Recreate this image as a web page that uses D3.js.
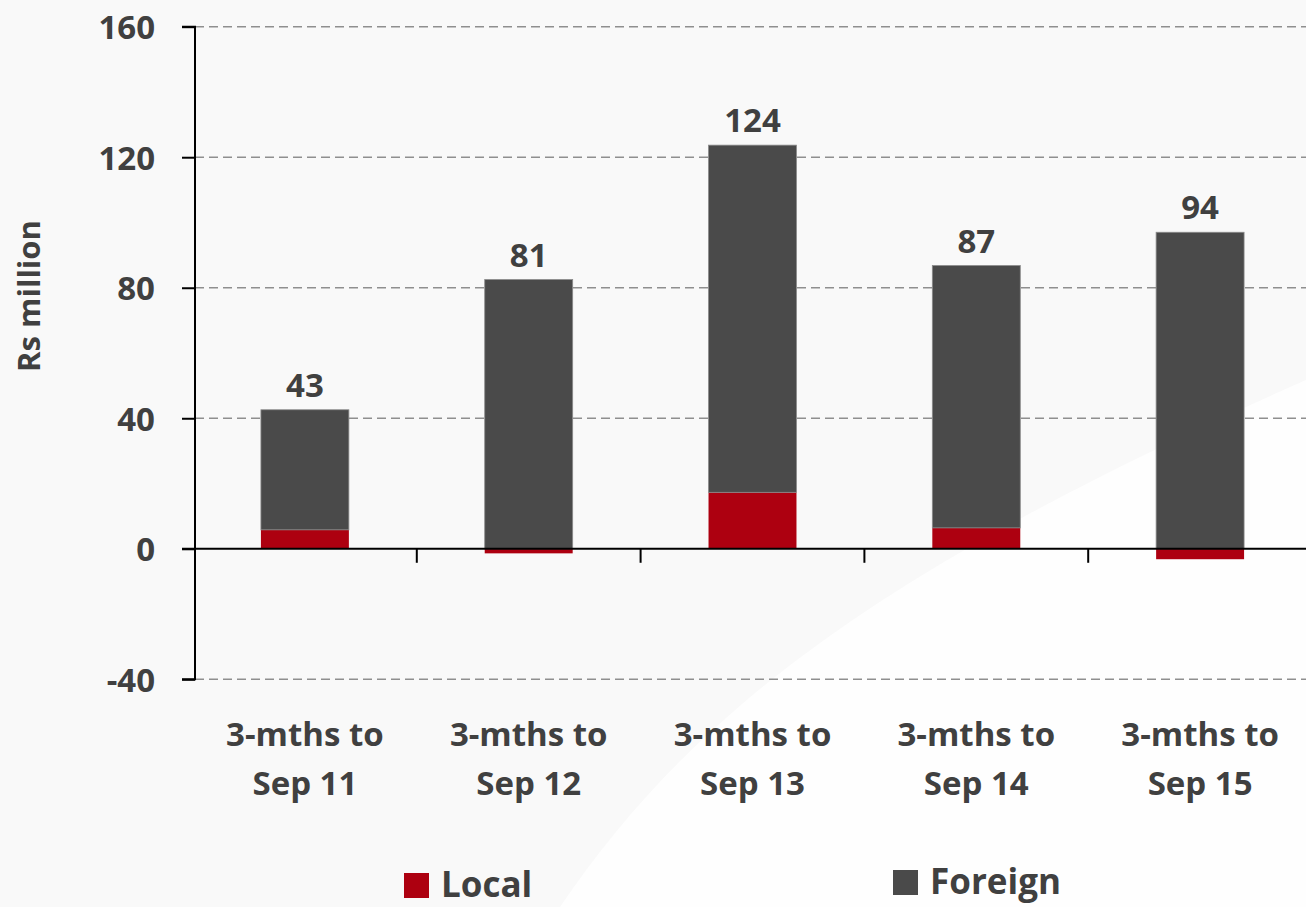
<!DOCTYPE html>
<html>
<head>
<meta charset="utf-8">
<script src="https://cdn.jsdelivr.net/npm/d3@7"></script>
<style>
  html, body { margin: 0; padding: 0; background: #fafafa; }
  svg { display: block; }
  text { font-family: "Open Sans", "Liberation Sans", sans-serif; font-weight: 700; fill: #404040; }
</style>
</head>
<body>
<svg id="chart" width="1306" height="907"></svg>
<script>
// ---- data ----
const categoryLine1 = ["3-mths to", "3-mths to", "3-mths to", "3-mths to", "3-mths to"];
const categoryLine2 = ["Sep 11", "Sep 12", "Sep 13", "Sep 14", "Sep 15"];
const localValues   = [5.8, -1.4, 17.3, 6.4, -3.2];
const foreignValues = [36.8, 82.5, 106.4, 80.4, 97.0];
const yTicks = [-40, 0, 40, 80, 120, 160];
const seriesNames = ["Local", "Foreign"];
const seriesColors = ["#ad0010", "#4a4a4a"];

// ---- layout ----
const svg = d3.select("#chart");
const W = 1306, H = 907;

// subtle background swooshes
svg.append("rect").attr("width", W).attr("height", H).attr("fill", "#f9f9f9");
svg.append("path")
  .attr("d", "M560,907 C700,700 900,560 1306,380 L1306,907 Z")
  .attr("fill", "#fefefe");

const categories = categoryLine2.map((d, i) => i);
const x = d3.scaleBand()
  .domain(categories)
  .range([193, 1312])
  .paddingInner(0.607)
  .paddingOuter(0.3035);

const y = d3.scaleLinear().domain([-40, 160]).range([679.3, 26.7]);

const axisX = 195;

// gridlines
svg.append("g")
  .selectAll("line")
  .data(yTicks.filter(t => t !== 0))
  .join("line")
  .attr("x1", axisX).attr("x2", W)
  .attr("y1", d => y(d)).attr("y2", d => y(d))
  .attr("stroke", "#8f8f8f")
  .attr("stroke-width", 1.6)
  .attr("stroke-dasharray", "9,5");

// stacked bars
const stacks = categories.map(i => {
  const l = localValues[i], f = foreignValues[i];
  const segs = [];
  if (l >= 0) segs.push({ s: 0, y0: 0, y1: l, i });
  else segs.push({ s: 0, y0: l, y1: 0, i });
  const base = Math.max(0, l);
  segs.push({ s: 1, y0: base, y1: base + f, i });
  return segs;
}).flat();

svg.append("g")
  .selectAll("rect")
  .data(stacks)
  .join("rect")
  .attr("x", d => x(d.i))
  .attr("width", x.bandwidth())
  .attr("y", d => y(d.y1))
  .attr("height", d => y(d.y0) - y(d.y1))
  .attr("fill", d => seriesColors[d.s])
  .attr("stroke", d => d.s === 1 ? "#8a8a8a" : "none")
  .attr("stroke-width", 0.8);

// y axis
const yAxis = d3.axisLeft(y).tickValues(yTicks).tickSize(13).tickPadding(27).tickFormat(d => String(d));
const gy = svg.append("g").attr("transform", `translate(${axisX},0)`).call(yAxis);
gy.select(".domain").attr("stroke", "#000").attr("stroke-width", 2).attr("d", `M-13,${y(160)}H0V${y(-40)}H-13`);
gy.selectAll(".tick line").attr("stroke", "#000").attr("stroke-width", 2);
gy.selectAll(".tick text")
  .attr("font-size", 33)
  .style("font-family", '"Open Sans", sans-serif')
  .style("font-weight", 700)
  .attr("fill", "#404040")
  .attr("dy", "0.36em");

// x axis line at zero
svg.append("line")
  .attr("x1", axisX - 13).attr("x2", W)
  .attr("y1", y(0)).attr("y2", y(0))
  .attr("stroke", "#000").attr("stroke-width", 2);

// category dividers
const step = x.step();
svg.append("g")
  .selectAll("line")
  .data(d3.range(0, 5))
  .join("line")
  .attr("x1", d => x(d) - x.paddingOuter() * step + (d === 0 ? 2 : 0))
  .attr("x2", d => x(d) - x.paddingOuter() * step + (d === 0 ? 2 : 0))
  .attr("y1", y(0)).attr("y2", y(0) + 14)
  .attr("stroke", "#000").attr("stroke-width", 2);

// category labels
const catG = svg.append("g");
catG.selectAll("text.l1")
  .data(categories)
  .join("text")
  .attr("class", "l1")
  .attr("x", d => x(d) + x.bandwidth() / 2)
  .attr("y", 746)
  .attr("text-anchor", "middle")
  .attr("font-size", 33)
  .text(d => categoryLine1[d]);
catG.selectAll("text.l2")
  .data(categories)
  .join("text")
  .attr("class", "l2")
  .attr("x", d => x(d) + x.bandwidth() / 2)
  .attr("y", 795)
  .attr("text-anchor", "middle")
  .attr("font-size", 33)
  .text(d => categoryLine2[d]);

// data labels (net totals)
svg.append("g")
  .selectAll("text")
  .data(categories)
  .join("text")
  .attr("x", d => x(d) + x.bandwidth() / 2)
  .attr("y", d => y(Math.max(0, localValues[d]) + foreignValues[d]) - 13)
  .attr("text-anchor", "middle")
  .attr("font-size", 33)
  .text(d => Math.round(localValues[d] + foreignValues[d]));

// y axis title
svg.append("text")
  .attr("transform", "translate(40,296) rotate(-90)")
  .attr("text-anchor", "middle")
  .attr("font-size", 31)
  .text("Rs million");

// legend
const legendItems = [
  { name: seriesNames[0], color: seriesColors[0], x: 404, y: 873 },
  { name: seriesNames[1], color: seriesColors[1], x: 893, y: 870 }
];
const lg = svg.append("g");
legendItems.forEach(it => {
  lg.append("rect").attr("x", it.x).attr("y", it.y).attr("width", 25).attr("height", 25).attr("fill", it.color);
  lg.append("text").attr("x", it.x + 37).attr("y", it.y + 24).attr("font-size", 35).text(it.name);
});
</script>
</body>
</html>
